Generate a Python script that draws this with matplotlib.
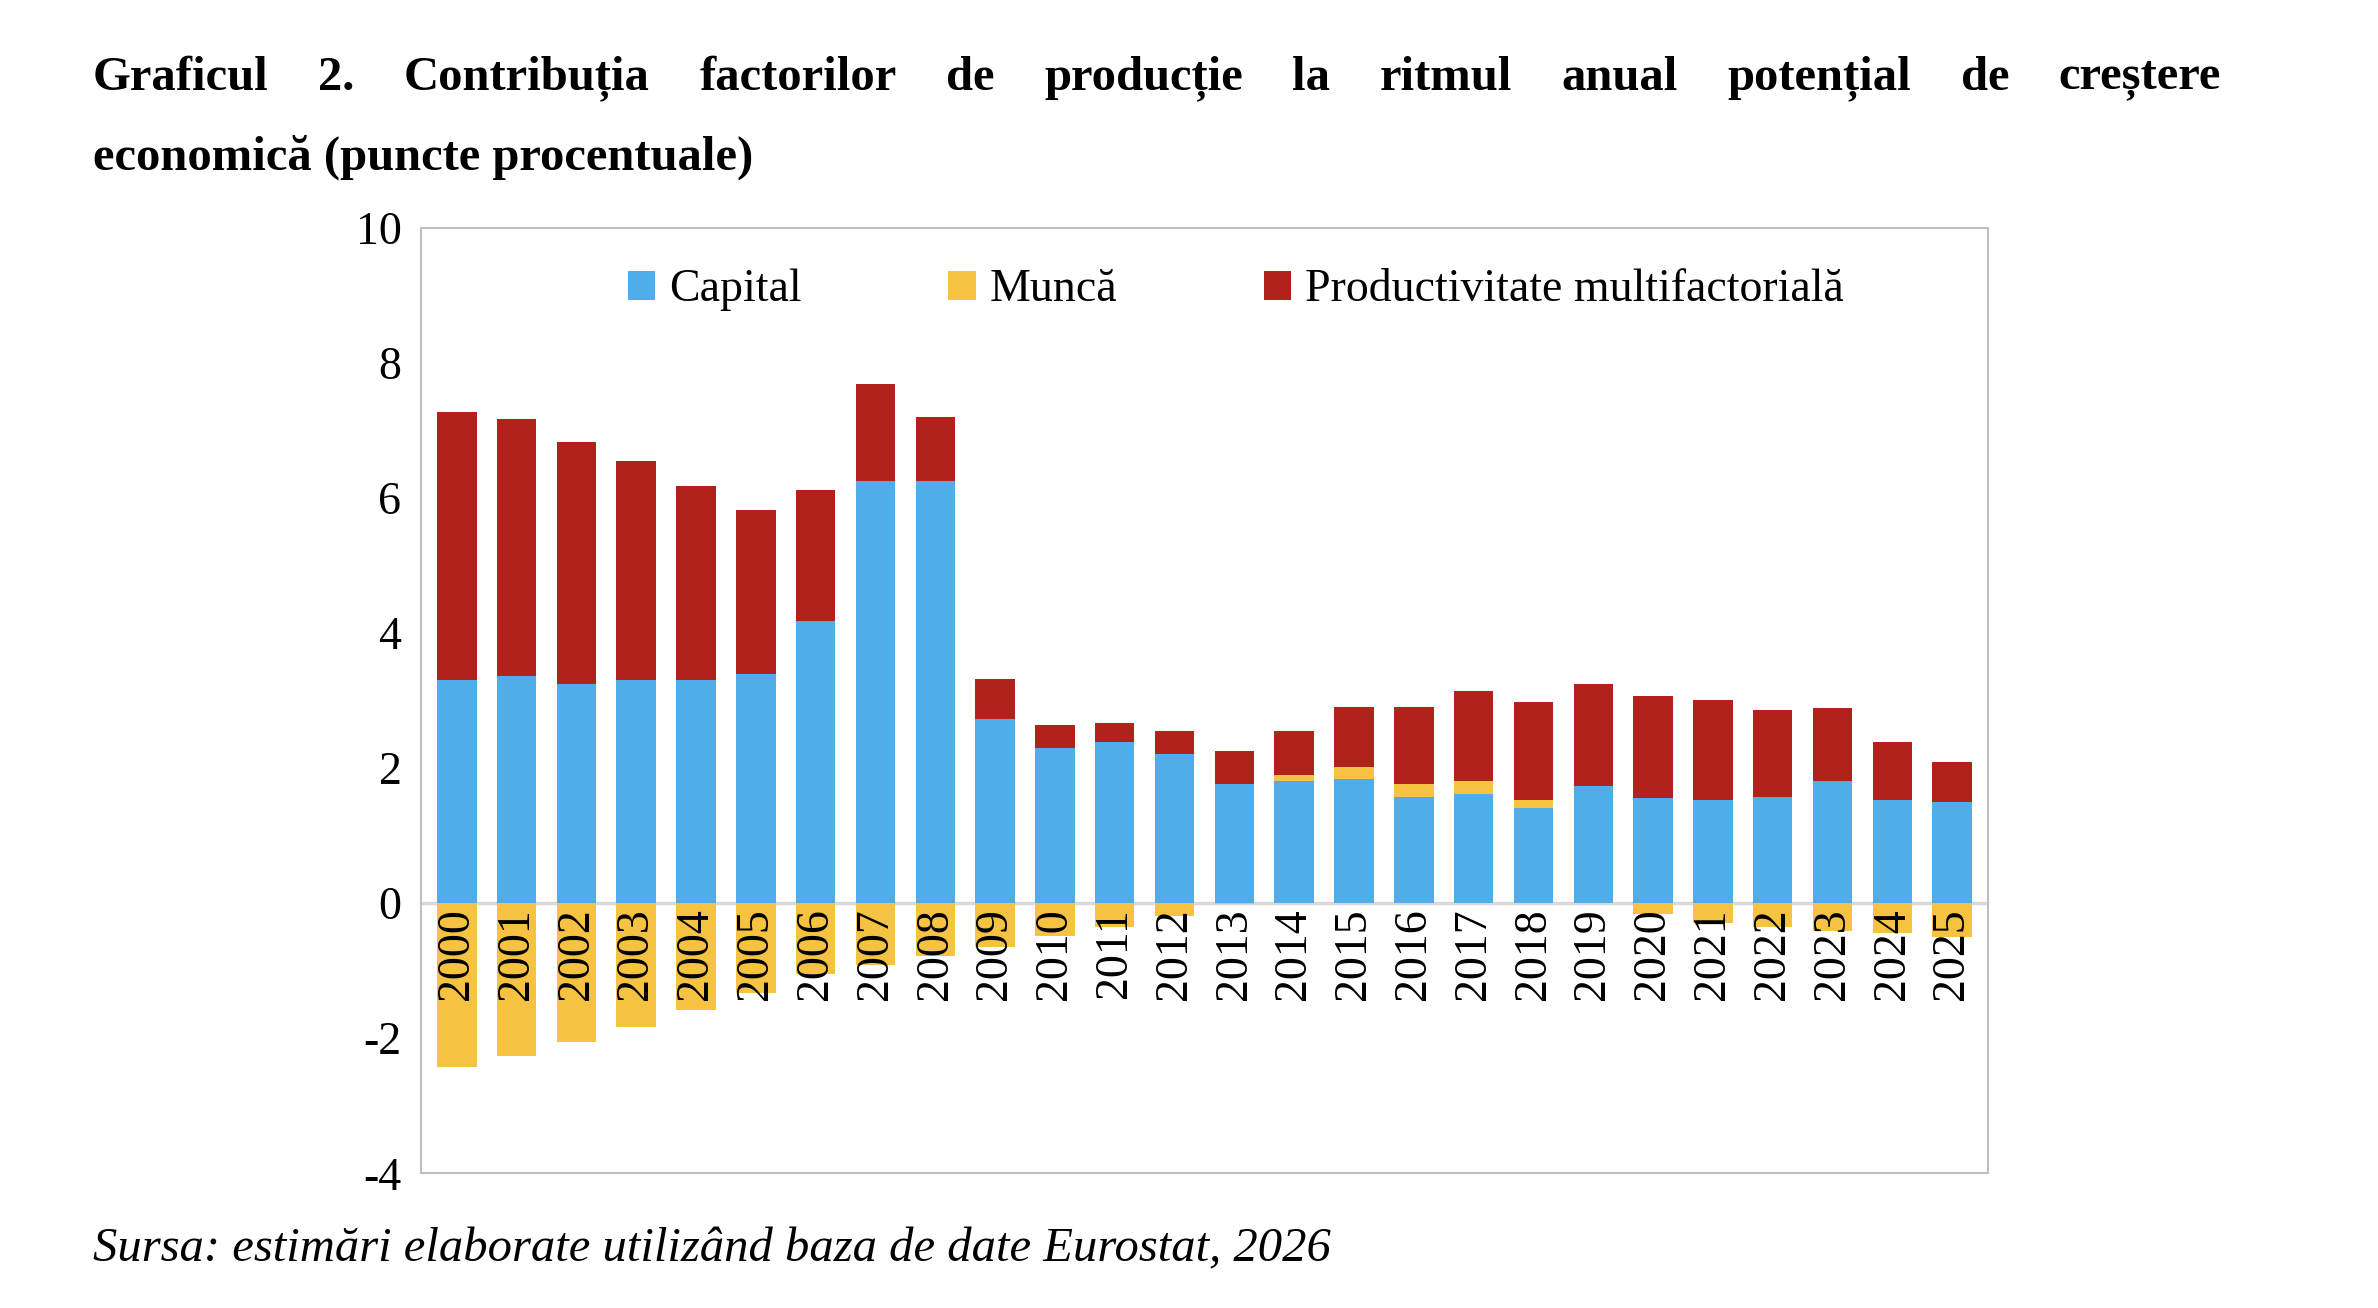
import matplotlib
matplotlib.use("Agg")
import matplotlib.pyplot as plt
import numpy as np

years = [str(y) for y in range(2000, 2026)]
capital = [3.30, 3.36, 3.25, 3.30, 3.30, 3.39, 4.18, 6.25, 6.25, 2.73, 2.30, 2.39, 2.20, 1.77,
           1.80, 1.84, 1.57, 1.61, 1.41, 1.73, 1.55, 1.52, 1.57, 1.80, 1.52, 1.50]
munca = [-2.42, -2.26, -2.06, -1.84, -1.59, -1.33, -1.05, -0.92, -0.78, -0.65, -0.48, -0.36, -0.19, -0.02,
         0.10, 0.18, 0.20, 0.20, 0.11, 0.0, -0.16, -0.30, -0.36, -0.41, -0.45, -0.50]
total = [7.27, 7.16, 6.82, 6.55, 6.18, 5.82, 6.11, 7.68, 7.20, 3.32, 2.64, 2.66, 2.55, 2.25,
         2.55, 2.90, 2.90, 3.14, 2.98, 3.25, 3.07, 3.00, 2.86, 2.89, 2.39, 2.09]

cap = np.array(capital); mun = np.array(munca); tot = np.array(total)
pos_m = np.clip(mun, 0, None)
pmf = tot - cap - pos_m

plt.rcParams['font.family'] = ['Liberation Serif', 'DejaVu Serif']
plt.rcParams['axes.unicode_minus'] = False
fig = plt.figure(figsize=(23.78, 13.08), dpi=100)
ax = fig.add_axes([0.177, 0.103, 0.659, 0.723])
x = np.arange(len(years))
w = 0.66
ax.bar(x, cap, w, color='#4FADEA', label='Capital', zorder=2)
ax.bar(x, mun, w, bottom=np.where(mun > 0, cap, 0), color='#F5C242', label='Muncă', zorder=2)
ax.bar(x, pmf, w, bottom=cap + pos_m, color='#B0221A', label='Productivitate multifactorială', zorder=2)
ax.axhline(0, color='#D9D9D9', lw=2.5, zorder=1)
ax.set_ylim(-4, 10)
ax.set_xlim(-0.6, len(years) - 0.4)
ax.set_yticks(range(-4, 11, 2))
ax.tick_params(axis='y', labelsize=33, length=0, pad=14)
ax.set_xticks([])
for s in ax.spines.values():
    s.set_color('#BFBFBF'); s.set_linewidth(1.5)
for i, y in enumerate(years):
    ax.text(i, -0.08, y, rotation=90, ha='center', va='top', fontsize=33, zorder=3)
ax.legend(loc='upper center', ncol=3, frameon=False, fontsize=33, bbox_to_anchor=(0.52, 1.0),
          columnspacing=3.2, handlelength=0.6, handleheight=0.6, handletextpad=0.3)

# justified title line 1
words = 'Graficul 2. Contribuția factorilor de producție la ritmul anual potențial de creștere'.split()
x0, x1 = 0.039, 0.934
fig.canvas.draw()
r = fig.canvas.get_renderer()
tw = []
for wd in words:
    t = fig.text(0, 0, wd, fontsize=35, fontweight='bold')
    tw.append(t.get_window_extent(r).width / fig.bbox.width)
    t.remove()
gap = (x1 - x0 - sum(tw)) / (len(words) - 1)
xp = x0
for wd, ww in zip(words, tw):
    fig.text(xp, 0.94, wd, fontsize=35, fontweight='bold', ha='left', va='center')
    xp += ww + gap
fig.text(0.039, 0.88, 'economică (puncte procentuale)', fontsize=35, fontweight='bold', ha='left', va='center')
fig.text(0.039, 0.045, 'Sursa: estimări elaborate utilizând baza de date Eurostat, 2026', fontsize=35,
         style='italic', ha='left', va='center')
fig.savefig('out.png', dpi=100)
